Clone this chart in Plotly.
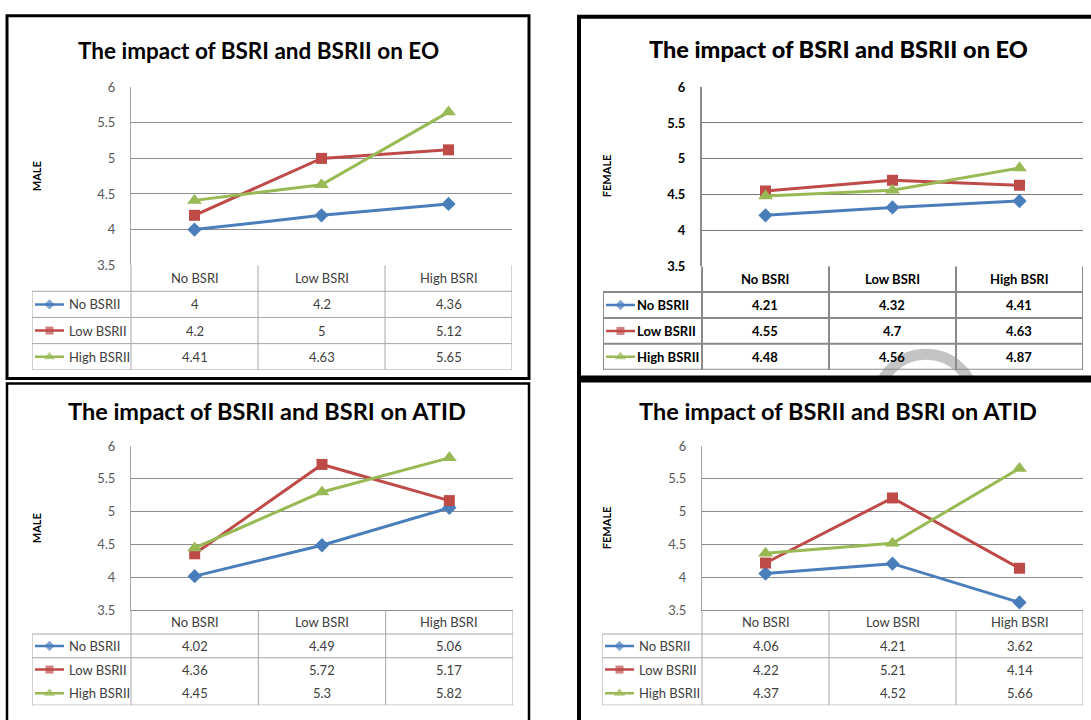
import plotly.graph_objects as go

# ---------------- data ----------------
categories = ["No BSRI", "Low BSRI", "High BSRI"]
series_names = ["No BSRII", "Low BSRII", "High BSRII"]

eo_male_no = [4, 4.2, 4.36]
eo_male_low = [4.2, 5, 5.12]
eo_male_high = [4.41, 4.63, 5.65]

eo_female_no = [4.21, 4.32, 4.41]
eo_female_low = [4.55, 4.7, 4.63]
eo_female_high = [4.48, 4.56, 4.87]

atid_male_no = [4.02, 4.49, 5.06]
atid_male_low = [4.36, 5.72, 5.17]
atid_male_high = [4.45, 5.3, 5.82]

atid_female_no = [4.06, 4.21, 3.62]
atid_female_low = [4.22, 5.21, 4.14]
atid_female_high = [4.37, 4.52, 5.66]

titles = ["The impact of BSRI and BSRII on EO", "The impact of BSRI and BSRII on EO",
          "The impact of BSRII and BSRI on ATID", "The impact of BSRII and BSRI on ATID"]
ylabels = ["MALE", "FEMALE", "MALE", "FEMALE"]
y_ticks = [3.5, 4, 4.5, 5, 5.5, 6]

panel_data = [
    [eo_male_no, eo_male_low, eo_male_high],
    [eo_female_no, eo_female_low, eo_female_high],
    [atid_male_no, atid_male_low, atid_male_high],
    [atid_female_no, atid_female_low, atid_female_high],
]

# ---------------- styling / layout (pixels) ----------------
W, H = 1091, 720
def fx(x): return x / W
def fy(y): return 1 - y / H

colors = ["#4A7EBB", "#BE4B48", "#98B954"]
symbols = ["diamond", "square", "triangle-up"]
msizes = [11, 11, 13]

panels = [
    dict(px0=131, px1=512, ptop=81, pbot=263, tleft=32, tbot=370, title=(258, 43), tsize=22.5,
         ylab=(36, 172), bold=False, rowline3=True, botline=False),
    dict(px0=702, px1=1083, ptop=81, pbot=264, tleft=603, tbot=370, title=(838, 42), tsize=23.5,
         ylab=(606, 172), bold=True, rowline3=True, botline=False),
    dict(px0=131, px1=513, ptop=448, pbot=616, tleft=32, tbot=713, title=(267, 412), tsize=23.5,
         ylab=(36, 532), bold=False, rowline3=False, botline=True),
    dict(px0=702, px1=1083, ptop=448, pbot=616, tleft=602, tbot=713, title=(838, 412), tsize=23.5,
         ylab=(606, 532), bold=False, rowline3=False, botline=True),
]

FONT = "Lato"
BOLDFONT = "Liberation Sans Narrow, Lato"

fig = go.Figure()
layout = dict(width=W, height=H, margin=dict(l=0, r=0, t=0, b=0, pad=0), autosize=False,
              paper_bgcolor="white", plot_bgcolor="rgba(0,0,0,0)", showlegend=False)
shapes = []
annotations = []

def an(n):
    return "" if n == 1 else str(n)

# watermark arc (visible only inside the upper-right panel)
shapes.append(dict(type="circle", xref="paper", yref="paper",
                   x0=fx(878), x1=fx(974), y0=fy(354), y1=fy(450),
                   line=dict(color="#c4c4c4", width=11), layer="above"))
shapes.append(dict(type="rect", xref="paper", yref="paper",
                   x0=fx(850), x1=fx(1000), y0=fy(380), y1=fy(460),
                   fillcolor="white", line=dict(width=0), layer="above"))

for k, (p, series) in enumerate(zip(panels, panel_data)):
    m = k + 1          # main axes
    t = k + 5          # table axes
    bold = p["bold"]
    tickcol = "#000000" if bold else "#595959"
    txtcol = "#000000" if bold else "#404040"
    fam = BOLDFONT if bold else FONT
    gridcol = "#7a7a7a" if bold else "#8c8c8c"
    tabcol = "#8a8a8a" if bold else "#a6a6a6"
    tabw = 2 if bold else 1

    catw = (p["px1"] - p["px0"]) / 3.0
    wleg = (p["px0"] - p["tleft"]) / catw
    xl = -0.5 - wleg

    for i, vals in enumerate(series):
        fig.add_trace(go.Scatter(
            x=categories, y=vals, mode="lines+markers", name=series_names[i],
            line=dict(color=colors[i], width=3),
            marker=dict(symbol=symbols[i], size=msizes[i], color=colors[i]),
            xaxis="x" + an(m), yaxis="y" + an(m), cliponaxis=False))

    layout["xaxis" + an(m)] = dict(
        domain=[fx(p["px0"]), fx(p["px1"])], anchor="y" + an(m), type="category",
        categoryorder="array", categoryarray=categories,
        range=[-0.5, 2.5], showticklabels=False, showgrid=False, zeroline=False,
        showline=p["botline"], linecolor=gridcol, linewidth=1, fixedrange=True)
    layout["yaxis" + an(m)] = dict(
        domain=[fy(p["pbot"]), fy(p["ptop"])], anchor="x" + an(m),
        range=[3.5, 6], tickvals=y_ticks, showgrid=True, gridcolor=gridcol, gridwidth=1,
        zeroline=False, showline=True, linecolor=tabcol, linewidth=tabw,
        ticks="", ticklabelstandoff=12,
        tickfont=dict(family=fam, size=13, color=tickcol, weight="bold" if bold else "normal"),
        fixedrange=True)

    layout["xaxis" + an(t)] = dict(
        domain=[fx(p["tleft"]), fx(p["px1"])], anchor="y" + an(t),
        range=[xl, 2.5], visible=False, fixedrange=True)
    layout["yaxis" + an(t)] = dict(
        domain=[fy(p["tbot"]), fy(p["pbot"])], anchor="x" + an(t),
        range=[4, 0], visible=False, fixedrange=True)

    xr, yr = "x" + an(t), "y" + an(t)
    lc = dict(color=tabcol, width=tabw)
    for r in [1, 2, 3, 4]:
        if r == 3 and not p["rowline3"]:
            continue
        shapes.append(dict(type="line", xref=xr, yref=yr, x0=xl, x1=2.5, y0=r, y1=r, line=lc, layer="above"))
    shapes.append(dict(type="line", xref=xr, yref=yr, x0=xl, x1=xl, y0=1, y1=4, line=lc, layer="above"))
    for vx in [-0.5, 0.5, 1.5, 2.5]:
        shapes.append(dict(type="line", xref=xr, yref=yr, x0=vx, x1=vx, y0=0, y1=4, line=lc, layer="above"))

    tfont = dict(family=fam, size=13, color=txtcol, weight="bold" if bold else "normal")
    for j, c in enumerate(categories):
        annotations.append(dict(xref=xr, yref=yr, x=j, y=0.5, text=c, showarrow=False,
                                xanchor="center", yanchor="middle", font=tfont))
    unit = 1.0 / catw
    for i, vals in enumerate(series):
        yrow = i + 1.5
        for j, v in enumerate(vals):
            annotations.append(dict(xref=xr, yref=yr, x=j, y=yrow, text=f"{v:g}", showarrow=False,
                                    xanchor="center", yanchor="middle", font=tfont))
        lx0 = xl + 3 * unit
        lx1 = xl + 32 * unit
        fig.add_trace(go.Scatter(
            x=[lx0, (lx0 + lx1) / 2, lx1], y=[yrow, yrow, yrow], mode="lines+markers",
            line=dict(color=colors[i], width=2.5),
            marker=dict(symbol=symbols[i], size=[0, msizes[i] - 3, 0], color=colors[i], line=dict(width=0)),
            xaxis=xr, yaxis=yr, hoverinfo="skip", cliponaxis=False))
        annotations.append(dict(xref=xr, yref=yr, x=xl + (32 if bold else 35) * unit, y=yrow,
                                text=series_names[i], showarrow=False, xanchor="left", yanchor="middle",
                                font=tfont))

    annotations.append(dict(xref="paper", yref="paper", x=fx(p["title"][0]), y=fy(p["title"][1]),
                            text=titles[k], showarrow=False, xanchor="center", yanchor="middle",
                            font=dict(family=FONT, size=p["tsize"], color="black",
                                      weight=900 if bold else "bold")))
    annotations.append(dict(xref="paper", yref="paper", x=fx(p["ylab"][0]), y=fy(p["ylab"][1]),
                            text=ylabels[k], showarrow=False, textangle=-90,
                            xanchor="center", yanchor="middle",
                            font=dict(family=FONT, size=11, color="black", weight="bold")))

shapes.append(dict(type="rect", xref="paper", yref="paper", x0=fx(7), x1=fx(529), y0=fy(8), y1=fy(379),
                   line=dict(color="black", width=3), layer="above"))
shapes.append(dict(type="rect", xref="paper", yref="paper", x0=fx(579), x1=fx(1110), y0=fy(9), y1=fy(378),
                   line=dict(color="black", width=4), layer="above"))
shapes.append(dict(type="rect", xref="paper", yref="paper", x0=fx(7), x1=fx(529), y0=fy(384), y1=fy(740),
                   line=dict(color="black", width=2.5), layer="above"))
shapes.append(dict(type="rect", xref="paper", yref="paper", x0=fx(579), x1=fx(1110), y0=fy(381), y1=fy(740),
                   line=dict(color="black", width=4), layer="above"))

layout["shapes"] = shapes
layout["annotations"] = annotations
fig.update_layout(**layout)
fig.write_html(
    "out.html",
    config={"displayModeBar": False, "responsive": False},
    post_script=("document.documentElement.style.margin='0';document.body.style.margin='0';"
                 "document.body.style.overflow='hidden';"
                 "var gd=document.getElementById('{plot_id}');"
                 "gd.style.position='absolute';gd.style.top='0px';gd.style.left='0px';"))
